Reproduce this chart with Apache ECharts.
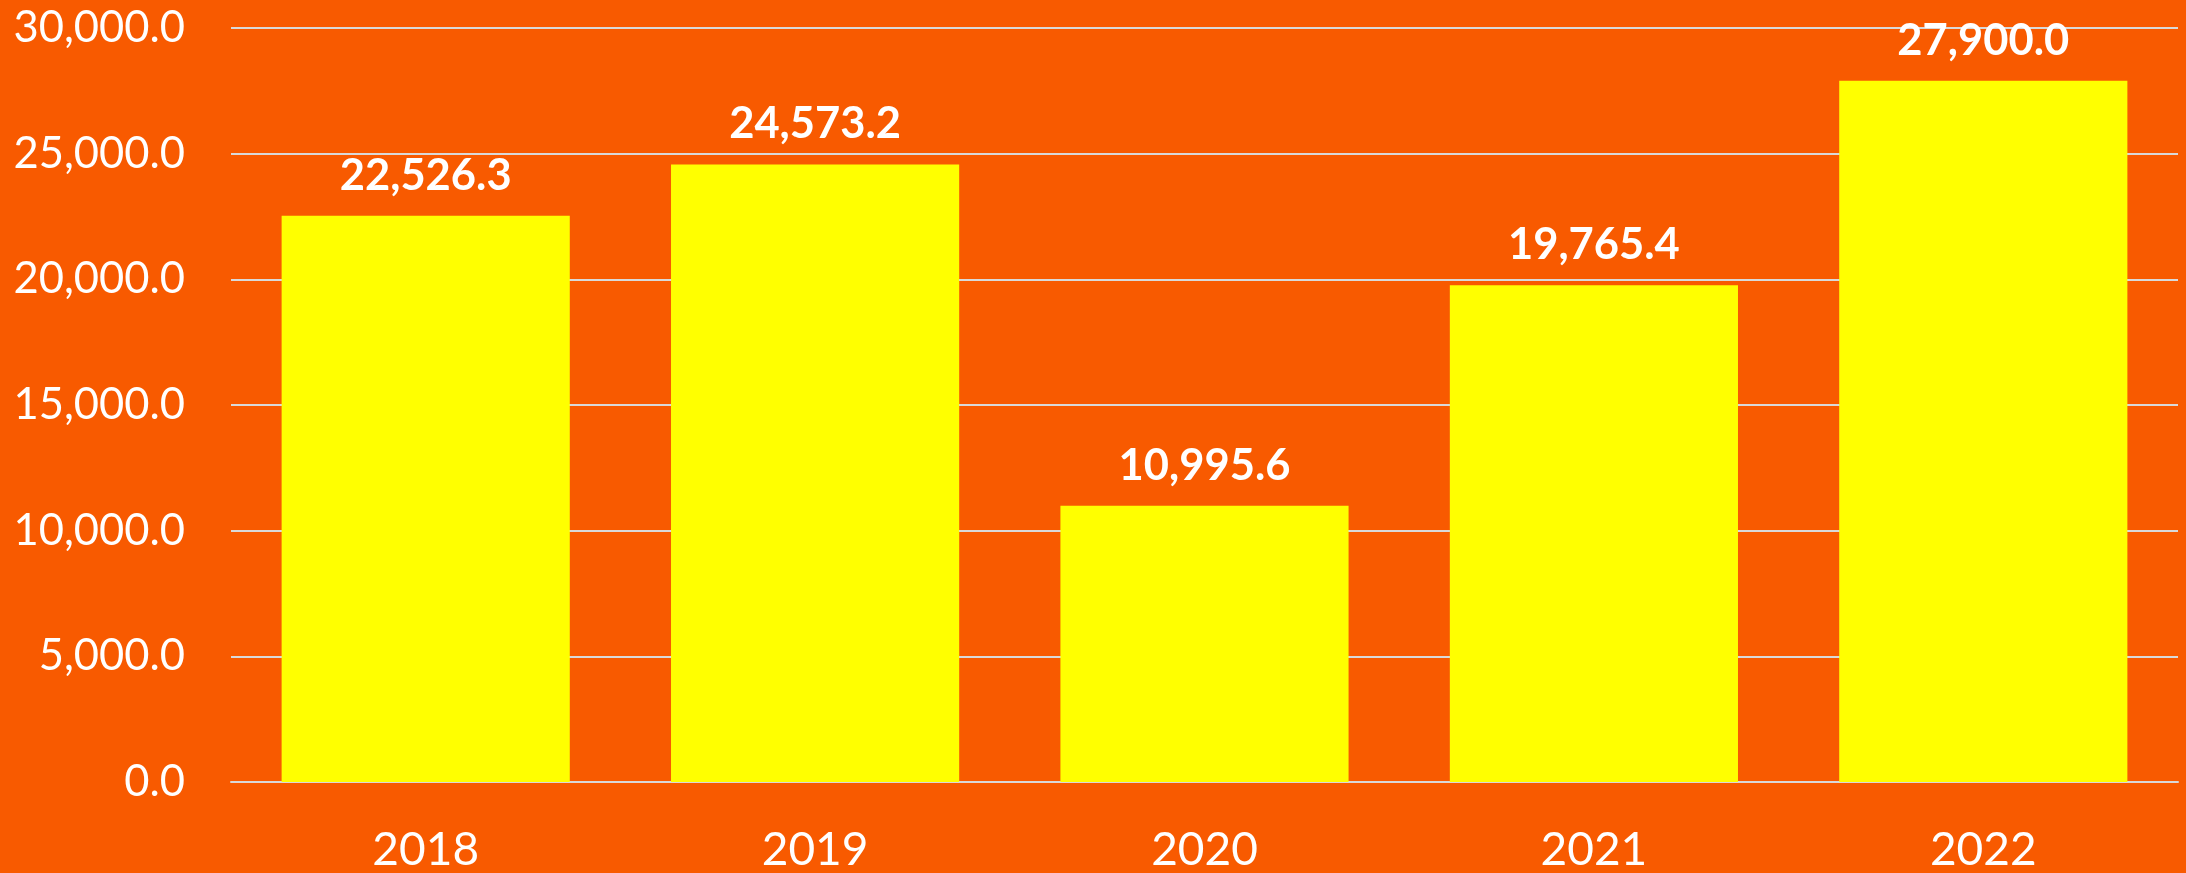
<!DOCTYPE html>
<html>
<head>
<meta charset="utf-8">
<script src="https://cdn.jsdelivr.net/npm/echarts@6/dist/echarts.min.js"></script>
<style>
html,body{margin:0;padding:0;background:#F85A00;}
#chart{width:2186px;height:873px;}
</style>
</head>
<body>
<div id="chart"></div>
<script>
const categories = ['2018', '2019', '2020', '2021', '2022'];
const values = [22526.3, 24573.2, 10995.6, 19765.4, 27900.0];
const yTicks = [0, 5000, 10000, 15000, 20000, 25000, 30000];

function fmt(v) {
  return Number(v).toLocaleString('en-US', {minimumFractionDigits: 1, maximumFractionDigits: 1});
}

const chart = echarts.init(document.getElementById('chart'), null, {renderer: 'canvas'});
chart.setOption({
  backgroundColor: '#F85A00',
  animation: false,
  grid: {left: 231, right: 8, top: 28, bottom: 90, containLabel: false},
  xAxis: {
    type: 'category',
    data: categories,
    axisLine: {show: true, lineStyle: {color: '#D9D9D9', width: 2}},
    axisTick: {show: false},
    axisLabel: {color: '#FFFFFF', fontFamily: 'Lato', fontSize: 46, margin: 45}
  },
  yAxis: {
    type: 'value',
    min: yTicks[0],
    max: yTicks[yTicks.length - 1],
    interval: 5000,
    axisLine: {show: false},
    axisTick: {show: false},
    splitLine: {show: true, lineStyle: {color: '#D9D9D9', width: 2}},
    axisLabel: {color: '#FFFFFF', fontFamily: 'Lato', fontSize: 43.5, margin: 46, formatter: fmt}
  },
  series: [{
    type: 'bar',
    data: values,
    barCategoryGap: '26%',
    itemStyle: {color: '#FFFF00'},
    label: {
      show: true,
      position: 'top',
      distance: 18,
      color: '#FFFFFF',
      fontFamily: 'Lato',
      fontWeight: 'bold',
      fontSize: 43.5,
      formatter: p => fmt(p.value)
    }
  }]
});
</script>
</body>
</html>
